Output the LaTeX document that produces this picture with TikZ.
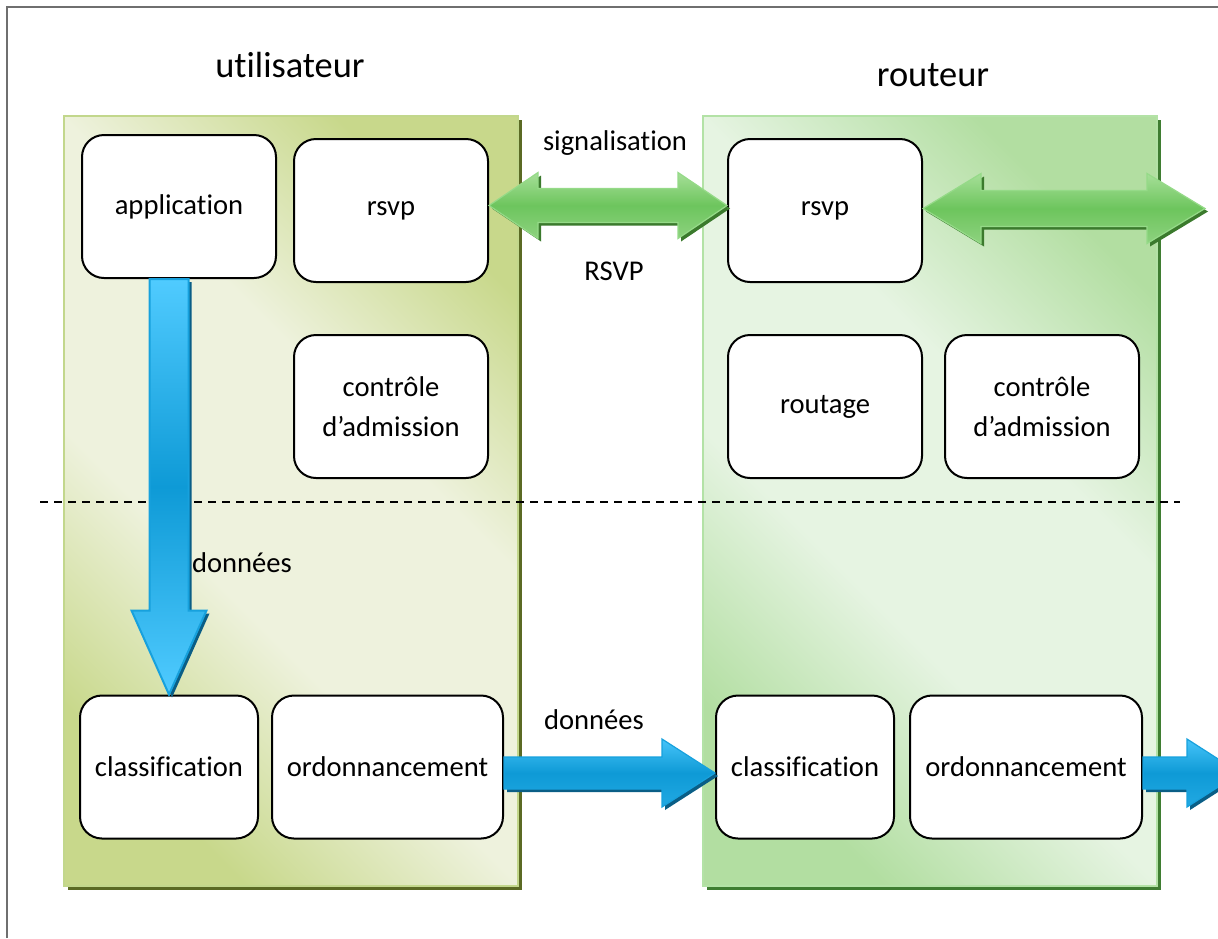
\documentclass[tikz,border=0pt]{standalone}
\usepackage{fontspec}
\setmainfont[Ligatures=NoCommon]{Carlito}
\usetikzlibrary{positioning, calc, shadows}

\definecolor{userdark}{HTML}{C8D88B}
\definecolor{userlight}{HTML}{EEF2DD}
\definecolor{useredge}{HTML}{C2D78C}
\definecolor{usershadow}{HTML}{5B6A24}
\definecolor{routerdark}{HTML}{B2DEA1}
\definecolor{routerlight}{HTML}{E6F4E2}
\definecolor{routeredge}{HTML}{B3E2A6}
\definecolor{routershadow}{HTML}{3F7D32}
\definecolor{sigtop}{HTML}{A6DF98}
\definecolor{sigmid}{HTML}{6DC55D}
\definecolor{sigbot}{HTML}{8ED27F}
\definecolor{sigedge}{HTML}{95DA88}
\definecolor{sigshadow}{HTML}{3B7A2D}
\definecolor{datlight}{HTML}{50CBFF}
\definecolor{datmid}{HTML}{0E9AD6}
\definecolor{datedge}{HTML}{17A1DD}
\definecolor{datshadow}{HTML}{0A5E86}
\definecolor{framegray}{HTML}{6F6F6F}

\pgfdeclareverticalshading{userfade}{100bp}{color(0bp)=(userdark); color(25bp)=(userdark);
  color(41bp)=(userlight); color(59bp)=(userlight); color(75bp)=(userdark); color(100bp)=(userdark)}
\pgfdeclareverticalshading{routerfade}{100bp}{color(0bp)=(routerdark); color(25bp)=(routerdark);
  color(41bp)=(routerlight); color(59bp)=(routerlight); color(75bp)=(routerdark); color(100bp)=(routerdark)}

\tikzset{
  box/.style={draw, line width=1pt, rounded corners=11pt, fill=white,
    minimum width=97pt, minimum height=71.5pt, align=center, inner sep=2pt,
    font=\fontsize{14.3}{20}\selectfont},
  label/.style={font=\fontsize{14.3}{20}\selectfont},
  title/.style={font=\fontsize{18.2}{22}\selectfont},
  userpanel/.style={draw=useredge, line width=1pt, shading=userfade, shading angle=-45,
    drop shadow={shadow xshift=2pt, shadow yshift=-2pt, fill=usershadow, opacity=1}},
  routerpanel/.style={draw=routeredge, line width=1pt, shading=routerfade, shading angle=-45,
    drop shadow={shadow xshift=2pt, shadow yshift=-2pt, fill=routershadow, opacity=1}},
  sigarrow/.style={draw=sigedge, line width=0.6pt, top color=sigtop,
    bottom color=sigbot, middle color=sigmid,
    drop shadow={shadow xshift=1.5pt, shadow yshift=-1.5pt, fill=sigshadow, opacity=1}},
  datvarrow/.style={draw=datedge, line width=1pt, top color=datlight,
    bottom color=datlight, middle color=datmid,
    drop shadow={shadow xshift=1.5pt, shadow yshift=-1.5pt, fill=datshadow, opacity=1}},
  datharrow/.style={draw=datedge, line width=0.6pt, top color=datlight!85!datmid,
    bottom color=datmid!70!datlight, middle color=datmid,
    drop shadow={shadow xshift=1.5pt, shadow yshift=-1.5pt, fill=datshadow, opacity=1}}
}

\begin{document}
\begin{tikzpicture}[x=0.5pt, y=-0.5pt]
        \useasboundingbox (0,0) rectangle (1218,938);
        \draw[framegray, line width=1pt] (7,938) -- (7,7) -- (1218,7);

        % panels
        \shadedraw[userpanel] (64,116) rectangle (518,886);
        \shadedraw[routerpanel] (703,116) rectangle (1157,886);

        \node[title] (user) at (290,65) {utilisateur};
        \node[title] (router) at (933,75) {routeur};

        \draw[dashed, dash pattern=on 4pt off 3pt, line width=0.6pt] (40,502) -- (1180,502);

        % boxes
        \node[box] (app) at (179,206.5) {application};
        \node[box] (rsvpa) at (391,210.5) {rsvp};
        \node[box, below = 25.5pt of rsvpa] (adma) {contrôle\\d’admission};
        \node[box, minimum width=89pt] (clsa) at (169,767) {classification};
        \node[box, minimum width=115.5pt, right = 6pt of clsa] (orda) {ordonnancement};

        \node[box] (rsvpb) at (825,210.5) {rsvp};
        \node[box, below = 25.5pt of rsvpb] (rout) {routage};
        \node[box, right = 10.5pt of rout] (admb) {contrôle\\d’admission};
        \node[box, minimum width=89pt] (clsb) at (805,767) {classification};
        \node[box, minimum width=116pt, right = 7pt of clsb] (ordb) {ordonnancement};

        \coordinate (sigout) at (1205,210.5);
        \coordinate (datout) at (1240,767);
        \coordinate (vtop) at (clsa.north |- app.south);

        % signalisation
        \path[sigarrow] ($(rsvpa.east)+(0,-5)$) -- ($(rsvpa.east)+(49,-38)$)
            -- ($(rsvpa.east)+(49,-22)$) -- ($(rsvpb.west)+(-49,-22)$)
            -- ($(rsvpb.west)+(-49,-38)$) -- ($(rsvpb.west)+(0,-5)$)
            -- ($(rsvpb.west)+(-49,28)$) -- ($(rsvpb.west)+(-49,12)$)
            -- ($(rsvpa.east)+(49,12)$) -- ($(rsvpa.east)+(49,28)$) -- cycle;
        \path[sigarrow] ($(rsvpb.east)+(0,-2)$) -- ($(rsvpb.east)+(58,-37)$)
            -- ($(rsvpb.east)+(58,-20)$) -- ($(sigout)+(-58,-20)$)
            -- ($(sigout)+(-58,-37)$) -- ($(sigout)+(0,-2)$)
            -- ($(sigout)+(-58,33)$) -- ($(sigout)+(-58,16)$)
            -- ($(rsvpb.east)+(58,16)$) -- ($(rsvpb.east)+(58,33)$) -- cycle;

        % donnees
        \path[datvarrow] ($(vtop)+(-19.5,0)$) -- ($(clsa.north)+(-19.5,-84)$)
            -- ($(clsa.north)+(-37.5,-84)$) -- (clsa.north)
            -- ($(clsa.north)+(37.5,-84)$) -- ($(clsa.north)+(19.5,-84)$)
            -- ($(vtop)+(19.5,0)$) -- cycle;
        \path[datharrow] ($(orda.east)+(0,-10)$) -- ($(clsb.west)+(-53,-10)$)
            -- ($(clsb.west)+(-53,-28)$) -- ($(clsb.west)+(0,6)$)
            -- ($(clsb.west)+(-53,40)$) -- ($(clsb.west)+(-53,22)$)
            -- ($(orda.east)+(0,22)$) -- cycle;
        \path[datharrow] ($(ordb.east)+(0,-10)$) -- ($(datout)+(-53,-10)$)
            -- ($(datout)+(-53,-28)$) -- ($(datout)+(0,6)$)
            -- ($(datout)+(-53,40)$) -- ($(datout)+(-53,22)$)
            -- ($(ordb.east)+(0,22)$) -- cycle;

        \node[label] (sig) at (615,143) {signalisation};
        \node[label] (proto) at (614,271) {RSVP};
        \node[label] (dona) at (242,563) {données};
        \node[label] (donb) at (594,720) {données};
    \end{tikzpicture}
\end{document}
